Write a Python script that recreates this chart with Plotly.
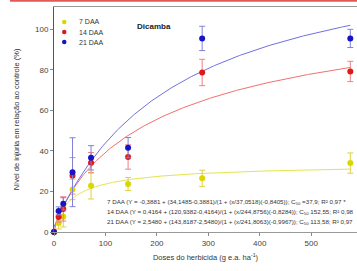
import numpy as np
import plotly.graph_objects as go

doses = [0, 9, 18, 36, 72, 144, 288, 576]
daa7 = [0, 4.5, 7.5, 21.0, 22.8, 23.7, 26.5, 34.0]
daa7_err = [0, 3.0, 5.0, 5.0, 6.5, 3.2, 4.0, 5.0]
daa14 = [0, 7.4, 11.4, 27.7, 34.2, 37.0, 78.7, 79.2]
daa14_err = [0, 2.5, 6.0, 9.0, 5.0, 6.0, 6.5, 5.0]
daa21 = [0, 10.4, 13.9, 29.5, 36.6, 41.6, 95.5, 95.5]
daa21_err = [0, 2.0, 3.0, 17.0, 6.0, 5.0, 6.0, 4.5]
x_ticks = [0, 100, 200, 300, 400, 500]
y_ticks = [0, 20, 40, 60, 80, 100]

# fitted log-logistic parameters as printed on the chart (c, d, e, b)
fit7 = (-0.3881, 34.1485, 37.0518, -0.8405)
fit14 = (0.4164, 120.9382, 244.8756, -0.8284)
fit21 = (2.5480, 143.8187, 241.8063, -0.9967)

labels = ["7 DAA", "14 DAA", "21 DAA"]
eq_lines = [
    "7 DAA (Y = -0,3881 + (34,1485-0,3881)/(1 + (x/37,0518)(-0,8405)); C<sub>50</sub> =37,9; R² 0,97 *",
    "14 DAA (Y = 0,4164 + (120,9382-0,4164)/(1 + (x/244,8756)(-0,8284)); C<sub>50</sub> 152,55; R² 0,98",
    "21 DAA (Y = 2,5480 + (143,8187-2,5480)/(1 + (x/241,8063)(-0,9967)); C<sub>50</sub> 113,58; R² 0,97",
]

mk_colors = ["#d8d800", "#e01818", "#1414c8"]
ln_colors = ["#e4e450", "#f07070", "#7070e0"]
bar_colors = ["#e0d040", "#f08080", "#8080d8"]

L, T, W, H = 54, 7, 303, 225  # plot area in pixels


def px(x):
    return (x - L) / W


def py(y):
    return (T + H - y) / H


def model(x, p):
    c, d, e, b = p
    x = np.asarray(x, dtype=float)
    t = np.full_like(x, np.inf)
    pos = x > 0
    t[pos] = (x[pos] / e) ** b
    return c + (d - c) / (1 + t)


fig = go.Figure()
xs = np.linspace(0, 576, 300)
for p, lc in zip([fit7, fit14, fit21], ln_colors):
    fig.add_trace(go.Scatter(x=xs, y=model(xs, p), mode="lines",
                             line=dict(color=lc, width=1), showlegend=False,
                             hoverinfo="skip"))

for name, ys, es, mc, bc in zip(labels, [daa7, daa14, daa21],
                                [daa7_err, daa14_err, daa21_err],
                                mk_colors, bar_colors):
    fig.add_trace(go.Scatter(
        x=doses, y=ys, mode="markers", name=name, showlegend=False,
        marker=dict(color=mc, size=6),
        error_y=dict(type="data", array=es, color=bc, thickness=1, width=3),
        cliponaxis=False,
    ))

# legend drawn manually
for i, (name, mc) in enumerate(zip(labels, mk_colors)):
    yc = 22 + 10 * i
    fig.add_shape(type="circle", xref="paper", yref="paper",
                  x0=px(62), x1=px(66.5), y0=py(yc + 2.2), y1=py(yc - 2.2),
                  fillcolor=mc, line=dict(width=0))
    fig.add_annotation(x=px(77), y=py(yc), xref="paper", yref="paper",
                       text=name, showarrow=False, xanchor="left", yanchor="middle",
                       font=dict(size=7, color="#333333", family="Liberation Sans"))

for i, t in enumerate(eq_lines):
    fig.add_annotation(x=px(105), y=py(202 + 10 * i), xref="paper", yref="paper",
                       text=t, showarrow=False, xanchor="left", yanchor="middle",
                       font=dict(size=6.2, color="#333333", family="Liberation Sans"))

fig.add_annotation(x=px(135), y=py(20), xref="paper", yref="paper",
                   text="<b>Dicamba</b>", showarrow=False,
                   font=dict(size=8, color="#222222", family="Liberation Sans"))

fig.add_shape(type="line", xref="paper", yref="paper",
              x0=px(10), x1=px(360), y0=py(0.8), y1=py(0.8),
              line=dict(color="#e05a5a", width=2))

fig.update_layout(
    width=357, height=271,
    margin=dict(l=L, r=0, t=T, b=271 - T - H, autoexpand=False),
    paper_bgcolor="white", plot_bgcolor="white",
    font=dict(family="Liberation Sans", size=8, color="#444444"),
    showlegend=False,
    xaxis=dict(range=[0, 589], tickvals=x_ticks, ticktext=[str(v) for v in x_ticks],
               showgrid=False, zeroline=False, showline=True, mirror=True,
               linecolor="#999999", linewidth=1, ticks="outside", ticklen=3,
               tickcolor="#888888", tickfont=dict(size=8, color="#444444"),
               automargin=False,
               title=dict(text="Doses do herbicida (g e.a. ha<sup>-1</sup>)",
                          font=dict(size=7.5, color="#333333"), standoff=8)),
    yaxis=dict(range=[0, 111], tickvals=y_ticks, ticktext=[str(v) for v in y_ticks],
               showgrid=False, zeroline=False, showline=True,
               linecolor="#555555", linewidth=1, ticks="outside", ticklen=3,
               tickcolor="#888888", tickfont=dict(size=8, color="#444444"),
               automargin=False,
               title=dict(text="Nível de injúria em relação ao controle (%)",
                          font=dict(size=7.5, color="#333333"), standoff=14)),
)

fig.write_html("out.html", config={"displayModeBar": False},
               post_script="document.body.style.margin='0';document.body.style.overflow='hidden';")
